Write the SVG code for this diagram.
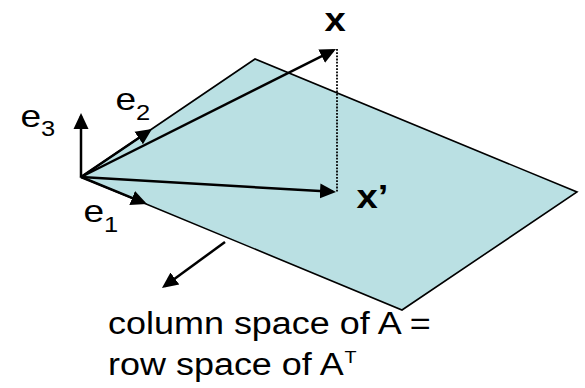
<svg xmlns="http://www.w3.org/2000/svg" width="585" height="388" viewBox="0 0 585 388">
<style>
.plane{fill:#BAE0E3;stroke:#000;stroke-width:1.6;stroke-linejoin:miter}
.vec{stroke:#000;stroke-width:2.5;fill:none;marker-end:url(#ah)}
.dot{stroke:#000;stroke-width:1.8;stroke-dasharray:1.8 1.4;fill:none}
.lbl{font-family:"Liberation Sans",Arial,sans-serif;fill:#000}
.b{font-weight:bold;font-size:33px}
.e{font-size:32px}
.s{font-size:22px}
.t{font-size:31px}
</style>
<defs>
<marker id="ah" markerUnits="userSpaceOnUse" markerWidth="18" markerHeight="18" viewBox="0 0 18 18" refX="13" refY="9" orient="auto">
<path d="M0,1.5 L16,9 L0,16.5 z" fill="#000"/>
</marker>
</defs>
<g id="plane">
<polygon class="plane" points="81,177 255,59 577,192 402,310"/>
</g>
<g id="connectors">
<line class="vec" x1="81" y1="177" x2="81" y2="116"/>
<line class="vec" x1="81" y1="177" x2="149.5" y2="130.7"/>
<line class="vec" x1="81" y1="177" x2="144.2" y2="202.9"/>
<line class="vec" x1="81" y1="177" x2="333.3" y2="50.3"/>
<line class="vec" x1="81" y1="177" x2="333" y2="191.8"/>
<line class="dot" x1="337" y1="49" x2="337" y2="192"/>
<line class="vec" x1="225" y1="242" x2="164.4" y2="286.2"/>
</g>
<g id="label-x">
<text class="lbl b" transform="translate(324.5,31) scale(1.16,1)">x</text>
</g>
<g id="label-xprime">
<text class="lbl b" transform="translate(356.5,208) scale(1.16,1)">x’</text>
</g>
<g id="label-e3">
<text class="lbl e" transform="translate(20.5,127) scale(1.16,1)">e</text>
<text class="lbl s" transform="translate(41,136) scale(1.16,1)">3</text>
</g>
<g id="label-e2">
<text class="lbl e" transform="translate(115.5,110) scale(1.16,1)">e</text>
<text class="lbl s" transform="translate(136,120) scale(1.16,1)">2</text>
</g>
<g id="label-e1">
<text class="lbl e" transform="translate(83.5,222) scale(1.16,1)">e</text>
<text class="lbl s" transform="translate(104,232) scale(1.16,1)">1</text>
</g>
<g id="label-space">
<text class="lbl t" transform="translate(108,334) scale(1.16,1)">column space of A =</text>
<text class="lbl t" transform="translate(108,375) scale(1.16,1)">row space of A</text>
<text class="lbl" font-size="17" transform="translate(344.5,363) scale(1.16,1)">T</text>
</g>
</svg>
